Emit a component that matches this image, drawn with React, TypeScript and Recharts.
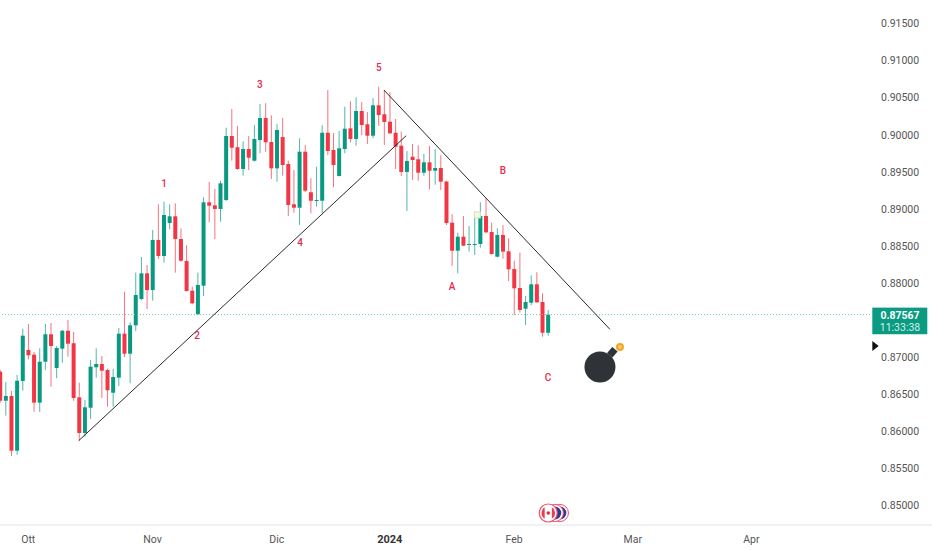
import React from "react";
import { ComposedChart, Bar, XAxis, YAxis, ReferenceLine, ReferenceDot } from "recharts";

const opens = [
  0.86798,0.86406,0.8647,0.85732,0.86672,0.8709,0.87027,0.8638,0.86932,0.87302,
  0.86847,0.87108,0.8735,0.87181,0.86452,0.85971,0.86312,0.86857,0.86901,0.8682,
  0.86514,0.86717,0.8731,0.8704,0.87423,0.87778,0.88124,0.87899,0.88574,0.88358,
  0.88803,0.88893,0.88587,0.8829,0.8789,0.87572,0.87957,0.89082,0.89041,0.88992,
  0.89113,0.89976,0.89824,0.89531,0.89801,0.89643,0.89922,0.90219,0.89895,0.8954,
  0.89962,0.89598,0.89055,0.89009,0.89764,0.89217,0.89103,0.89103,0.9002,0.89787,
  0.89437,0.89801,0.90079,0.89936,0.90313,0.90134,0.8998,0.9039,0.90269,0.90169,
  0.9002,0.89845,0.89491,0.89697,0.89662,0.89481,0.89621,0.89508,0.89544,0.89362,
  0.88807,0.88429,0.88618,0.8851,0.8851,0.8852,0.88897,0.88681,0.88348,0.88641,
  0.88421,0.88182,0.87926,0.87647,0.87728,0.87976,0.87737,0.87323,
];
const highs = [
  0.8682,0.86659,0.86537,0.86753,0.87377,0.87441,0.87063,0.87113,0.87441,0.87454,
  0.87144,0.8736,0.87495,0.87333,0.86649,0.86416,0.86955,0.87113,0.87009,0.86838,
  0.86834,0.87387,0.87876,0.87464,0.88133,0.88344,0.88236,0.88708,0.89055,0.8909,
  0.89055,0.89068,0.88731,0.88502,0.87944,0.88133,0.89149,0.89356,0.89261,0.89373,
  0.90088,0.9034,0.90111,0.89905,0.89976,0.90124,0.90407,0.90417,0.90255,0.90138,
  0.90219,0.89643,0.89517,0.89945,0.89855,0.89406,0.89562,0.9012,0.90596,0.90016,
  0.90043,0.90371,0.90444,0.90498,0.90434,0.903,0.90488,0.90641,0.90596,0.90565,
  0.90205,0.90034,0.89774,0.89868,0.89851,0.89733,0.89841,0.89801,0.89716,0.89373,
  0.8892,0.88672,0.88897,0.88762,0.88955,0.89082,0.89136,0.88807,0.88731,0.88776,
  0.88596,0.88294,0.88402,0.87818,0.88097,0.88138,0.87855,0.8763,
];
const lows = [
  0.8638,0.86204,0.85661,0.85678,0.86541,0.86965,0.86258,0.86254,0.8682,0.86595,
  0.86709,0.86919,0.87,0.86406,0.85867,0.85921,0.8616,0.86717,0.86443,0.86326,
  0.86326,0.86605,0.86992,0.86641,0.87346,0.8776,0.87643,0.87755,0.88317,0.88267,
  0.88718,0.88133,0.88281,0.87876,0.87706,0.87562,0.87818,0.88812,0.88587,0.8882,
  0.891,0.89643,0.8952,0.89441,0.89517,0.8963,0.89743,0.89764,0.89396,0.8936,
  0.89441,0.88897,0.88942,0.88776,0.89221,0.88934,0.89023,0.88934,0.8972,0.89284,
  0.8943,0.89743,0.89891,0.89845,0.89989,0.89868,0.89949,0.90115,0.89855,0.90005,
  0.89531,0.89437,0.88965,0.89383,0.89373,0.89441,0.89257,0.89319,0.89248,0.88776,
  0.88223,0.88124,0.8849,0.88416,0.88371,0.8847,0.88664,0.88375,0.8834,0.88321,
  0.88021,0.87562,0.87593,0.87427,0.87697,0.87725,0.8727,0.87283,
];
const closes = [
  0.86406,0.8647,0.85732,0.86676,0.87283,0.87019,0.8638,0.86932,0.87302,0.87144,
  0.87117,0.8735,0.87175,0.86443,0.85971,0.86317,0.86865,0.86901,0.86811,0.86547,
  0.86726,0.8731,0.8704,0.87423,0.87832,0.88124,0.87899,0.88574,0.88358,0.88911,
  0.88893,0.88587,0.88294,0.87886,0.8772,0.87967,0.89082,0.89036,0.88992,0.89338,
  0.89976,0.89818,0.89531,0.89801,0.89683,0.89936,0.90219,0.89891,0.8954,0.90057,
  0.89585,0.89046,0.89009,0.89764,0.89238,0.89103,0.89113,0.9002,0.89774,0.89585,
  0.8981,0.90074,0.89936,0.90313,0.90124,0.8998,0.9039,0.90259,0.90165,0.90012,
  0.89832,0.89491,0.89639,0.89652,0.89481,0.89621,0.89508,0.89544,0.8936,0.88803,
  0.88429,0.88618,0.88497,0.8852,0.8852,0.88897,0.88677,0.88385,0.88641,0.88416,
  0.88178,0.87922,0.8763,0.87737,0.87976,0.87733,0.87323,0.87567,
];

const rows = closes.map((close, i) => ({ i, open: opens[i], high: highs[i], low: lows[i], close }));

const priceTicks = [0.85,0.855,0.86,0.865,0.87,0.88,0.885,0.89,0.895,0.9,0.905,0.91,0.915];
const dateTickPositions = [5, 27, 49, 69, 91, 112, 133];
const dateTickLabels = ["Ott", "Nov", "Dic", "2024", "Feb", "Mar", "Apr"];

const lastPrice = 0.87567;
const countdown = "11:33:38";

const waveX = [29.03, 34.87, 46, 53.1, 67.08, 80, 89.03, 97];
const waveY = [0.89329, 0.87279, 0.90677, 0.88533, 0.90906, 0.8794, 0.89504, 0.86713];
const waveLabels = ["1", "2", "3", "4", "5", "A", "B", "C"];

const upTrendX = [13.93, 71.9];
const upTrendY = [0.85867, 0.8998];
const downTrendX = [67.96, 107.96];
const downTrendY = [0.90596, 0.87369];

const bombX = 106.2;
const bombY = 0.86861;
const earningsX = [99.1, 98.2, 97.05];
const earningsY = 0.84892;
const markerX = 84.5;
const markerY = 0.88911;
const pointerY = 0.87144;

const X_MAX = 154;
const Y_MIN = 0.8473;
const FONT = "Roboto, 'Liberation Sans', Arial, sans-serif";
const UP = "#089981";
const DOWN = "#f23645";
const WAVE = "#e6294f";
const AXIS = "#e3e5ea";

function Candle(props: any) {
  const { x, y, width, height, payload } = props;
  const { open, close, high, low } = payload;
  const pxPer = height / (high - low);
  const cx = x + width / 2;
  const top = y + (high - Math.max(open, close)) * pxPer;
  const h = Math.max(Math.abs(open - close) * pxPer, 1);
  const color = close >= open ? UP : DOWN;
  return (
    <g>
      <line x1={cx} x2={cx} y1={y} y2={y + height} stroke={color} strokeWidth={1} strokeOpacity={0.7} />
      <rect x={cx - 2} y={top} width={4} height={h} fill={color} />
    </g>
  );
}

function DateTick(props: any) {
  const { x, y, payload } = props;
  const label = dateTickLabels[dateTickPositions.indexOf(payload.value)];
  const bold = label === "2024";
  return (
    <text x={x} y={y + 9.5} textAnchor="middle" fontFamily={FONT} fontSize={bold ? 11 : 10.5} fontWeight={bold ? 700 : 400} fill={bold ? "#333" : "#555"}>
      {label}
    </text>
  );
}

function PriceTick(props: any) {
  const { y, payload } = props;
  return (
    <text x={881} y={y + 4.3} fontFamily={FONT} fontSize={10.5} fill="#555">
      {payload.value.toFixed(5)}
    </text>
  );
}

function WaveLabel(text: string) {
  return (props: any) => (
    <text x={props.cx} y={props.cy + 3.5} textAnchor="middle" fontFamily={FONT} fontSize={10} fontWeight={500} fill={WAVE}>
      {text}
    </text>
  );
}

function PriceTag(props: any) {
  const { cx, cy } = props;
  return (
    <g>
      <rect x={cx + 2.3} y={cy - 7} width={55} height={26.6} fill="#0a9b82" />
      <text x={cx + 30} y={cy + 4} textAnchor="middle" fontFamily={FONT} fontSize={10.5} fontWeight={700} fill="#fff">
        {lastPrice.toFixed(5)}
      </text>
      <text x={cx + 30} y={cy + 16} textAnchor="middle" fontFamily={FONT} fontSize={10.5} fill="#d5efe9">
        {countdown}
      </text>
    </g>
  );
}

function Pointer(props: any) {
  const { cx, cy } = props;
  return <path d={`M${cx + 2.3} ${cy - 5}L${cx + 8.7} ${cy}L${cx + 2.3} ${cy + 5}Z`} fill="#111" />;
}

function AxisExtension(props: any) {
  const { cx, cy } = props;
  return <line x1={cx} x2={cx + 62} y1={cy} y2={cy} stroke={AXIS} />;
}

function Bomb(props: any) {
  const { cx, cy } = props;
  return (
    <g>
      <rect x={cx + 9} y={cy - 19} width={7} height={8} fill="#2f3338" transform={`rotate(40 ${cx + 12} ${cy - 15})`} />
      <circle cx={cx} cy={cy} r={15.5} fill="#2f3338" />
      <circle cx={cx + 20} cy={cy - 20} r={4} fill="#f5a623" />
      <circle cx={cx + 20} cy={cy - 20} r={1.8} fill="#fcd27a" />
    </g>
  );
}

function BlueFlag(props: any) {
  return (
    <g>
      <circle cx={props.cx} cy={props.cy} r={8.6} fill="#fff" stroke="#f0506a" strokeWidth={1} />
      <circle cx={props.cx} cy={props.cy} r={6.5} fill="#2b3a8f" />
    </g>
  );
}

function CanadaFlag(props: any) {
  const { cx, cy } = props;
  return (
    <g>
      <circle cx={cx} cy={cy} r={9} fill="#fff" stroke="#f0506a" strokeWidth={1.2} />
      <circle cx={cx} cy={cy} r={6.8} fill="#ee3b50" />
      <rect x={cx - 3.6} y={cy - 7} width={7.2} height={14} fill="#fff" />
      <circle cx={cx} cy={cy} r={1.8} fill="#e02a40" />
    </g>
  );
}

function Marker(props: any) {
  return <rect x={props.cx - 3} y={props.cy - 3} width={6} height={6} fill="#f4f8e6" stroke="#d5e6ae" strokeWidth={1} />;
}

export default function App() {
  return (
    <div style={{ position: "absolute", left: 0, top: 0, width: 932, height: 550, background: "#fff" }}>
      <ComposedChart width={932} height={550} data={rows} margin={{ top: 0, right: 0, bottom: 0, left: 0 }} barSize={4}>
        <XAxis
          dataKey="i"
          type="number"
          domain={[0, X_MAX]}
          allowDataOverflow
          ticks={dateTickPositions}
          interval={0}
          height={25}
          tickLine={false}
          axisLine={{ stroke: AXIS }}
          tick={<DateTick />}
        />
        <YAxis
          orientation="right"
          type="number"
          domain={[Y_MIN, 0.9181]}
          allowDataOverflow
          ticks={priceTicks}
          interval={0}
          width={62}
          tickLine={false}
          axisLine={false}
          tick={<PriceTick />}
        />
        <ReferenceLine y={lastPrice} stroke="#6fc4b2" strokeWidth={1} strokeDasharray="1 2" />
        <Bar dataKey={(d: any) => [d.low, d.high]} shape={<Candle />} isAnimationActive={false} />
        <ReferenceLine
          segment={[{ x: upTrendX[0], y: upTrendY[0] }, { x: upTrendX[1], y: upTrendY[1] }]}
          stroke="#2b2b2b"
          strokeWidth={1}
        />
        <ReferenceLine
          segment={[{ x: downTrendX[0], y: downTrendY[0] }, { x: downTrendX[1], y: downTrendY[1] }]}
          stroke="#2b2b2b"
          strokeWidth={1}
        />
        {waveLabels.map((t, k) => (
          <ReferenceDot key={t} x={waveX[k]} y={waveY[k]} r={0} ifOverflow="visible" shape={WaveLabel(t)} />
        ))}
        <ReferenceDot x={markerX} y={markerY} ifOverflow="visible" shape={<Marker />} />
        <ReferenceDot x={bombX} y={bombY} ifOverflow="visible" shape={<Bomb />} />
        {earningsX.map((ex, k) => (
          <ReferenceDot key={ex} x={ex} y={earningsY} ifOverflow="visible" shape={k === earningsX.length - 1 ? <CanadaFlag /> : <BlueFlag />} />
        ))}
        <ReferenceDot x={X_MAX} y={lastPrice} ifOverflow="visible" shape={<PriceTag />} />
        <ReferenceDot x={X_MAX} y={pointerY} ifOverflow="visible" shape={<Pointer />} />
        <ReferenceDot x={X_MAX} y={Y_MIN} ifOverflow="visible" shape={<AxisExtension />} />
      </ComposedChart>
    </div>
  );
}
